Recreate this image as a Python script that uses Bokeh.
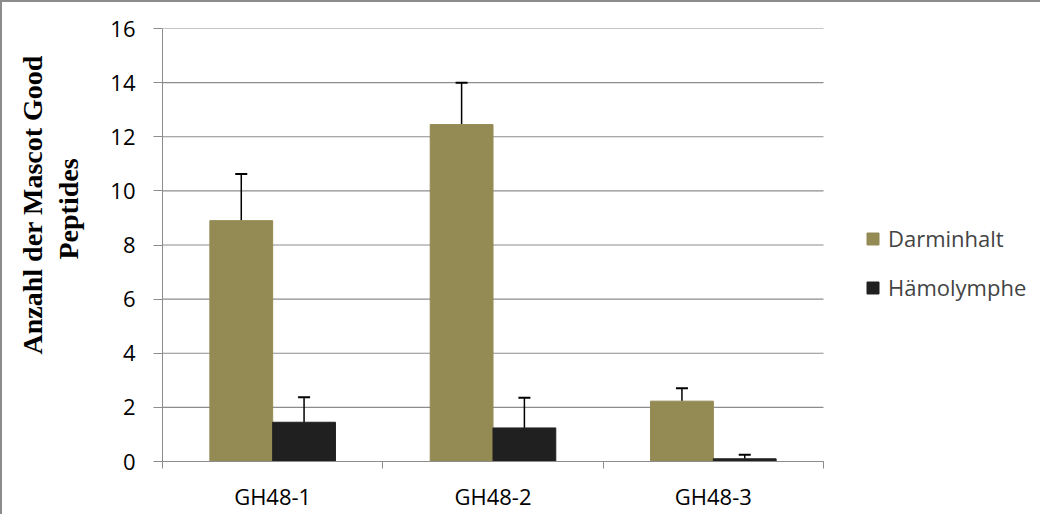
from bokeh.plotting import figure
from bokeh.models import ColumnDataSource, Whisker, TeeHead, FixedTicker, Legend, LegendItem, Range1d, Title
from bokeh.embed import file_html
from bokeh.resources import INLINE

categories = ["GH48-1", "GH48-2", "GH48-3"]
darm = [8.9, 12.45, 2.23]
darm_err = [1.72, 1.55, 0.48]
haemo = [1.45, 1.24, 0.1]
haemo_err = [0.92, 1.12, 0.15]
series_names = ["Darminhalt", "Hämolymphe"]
colors = ["#948A54", "#202020"]
y_ticks = list(range(0, 17, 2))
y_label_lines = ["Anzahl der Mascot Good", "Peptides"]
FONT = "Open Sans"
GRID = "#8c8c8c"

n = len(categories)
plot_px = 661            # width of the category area
frame_px = 878           # frame incl. legend area to the right
x_end = n * frame_px / plot_px

p = figure(frame_width=frame_px, frame_height=433, output_backend="svg", toolbar_location=None,
           x_range=Range1d(0, x_end), y_range=Range1d(0, 16),
           min_border_left=160, min_border_right=0, min_border_top=26, min_border_bottom=53)
p.styles = {"border-left": "2px solid #8c8c8c", "border-top": "2px solid #8c8c8c"}
p.outline_line_color = None
p.background_fill_color = "white"

# horizontal grid lines limited to the category area
p.xgrid.visible = False
p.ygrid.visible = False
p.segment(x0=[0] * len(y_ticks), x1=[n] * len(y_ticks), y0=y_ticks, y1=y_ticks,
          line_color=GRID, line_width=1.2, level="underlay")

bw = 0.285
xs_d = [i + 0.5 - bw / 2 for i in range(n)]
xs_h = [i + 0.5 + bw / 2 for i in range(n)]
src_d = ColumnDataSource(dict(x=xs_d, top=darm, up=[v + e for v, e in zip(darm, darm_err)]))
src_h = ColumnDataSource(dict(x=xs_h, top=haemo, up=[v + e for v, e in zip(haemo, haemo_err)]))

r1 = p.vbar(x="x", top="top", width=bw, source=src_d, fill_color=colors[0], line_color=colors[0])
r2 = p.vbar(x="x", top="top", width=bw, source=src_h, fill_color=colors[1], line_color=colors[1])

for src in (src_d, src_h):
    w = Whisker(base="x", lower="top", upper="up", source=src, dimension="height",
                line_color="black", line_width=1.5,
                upper_head=TeeHead(size=12, line_color="black", line_width=2), lower_head=None)
    p.add_layout(w)

# y axis
p.yaxis.ticker = FixedTicker(ticks=y_ticks)
p.yaxis.axis_line_color = GRID
p.yaxis.major_tick_line_color = GRID
p.yaxis.major_tick_out = 9
p.yaxis.major_tick_in = 0
p.yaxis.minor_tick_line_color = None
p.yaxis.major_label_text_font = FONT
p.yaxis.major_label_text_font_size = "22px"
p.yaxis.major_label_text_color = "black"
p.yaxis.major_label_standoff = 18

# y axis title as two stacked side titles (inner line first)
for txt, so, off in ((y_label_lines[1], 47, 202), (y_label_lines[0], -40, 107)):
    t = Title(text=txt, align="left", offset=off, standoff=so,
              text_font="Liberation Serif", text_font_style="bold",
              text_font_size="28px", text_color="black")
    p.add_layout(t, "left")

# x axis
p.xaxis.bounds = (0, n)
p.xaxis.ticker = FixedTicker(ticks=[i + 0.5 for i in range(n)],
                             minor_ticks=list(range(n + 1)))
p.xaxis.major_label_overrides = {i + 0.5: c for i, c in enumerate(categories)}
p.xaxis.axis_line_color = GRID
p.xaxis.major_tick_line_color = None
p.xaxis.major_tick_out = 0
p.xaxis.major_tick_in = 0
p.xaxis.minor_tick_line_color = GRID
p.xaxis.minor_tick_out = 7
p.xaxis.minor_tick_in = 0
p.xaxis.major_label_text_font = FONT
p.xaxis.major_label_text_font_size = "22px"
p.xaxis.major_label_text_color = "black"
p.xaxis.major_label_standoff = 12

legend = Legend(items=[LegendItem(label=series_names[0], renderers=[r1]),
                       LegendItem(label=series_names[1], renderers=[r2])],
                location=(plot_px + 42, 159), border_line_color=None, background_fill_alpha=0,
                glyph_width=15, glyph_height=15, label_standoff=8, spacing=19,
                label_text_font=FONT, label_text_font_size="22px", padding=0, margin=0)
p.add_layout(legend, "center")

open("out.html", "w").write(file_html(p, INLINE))
